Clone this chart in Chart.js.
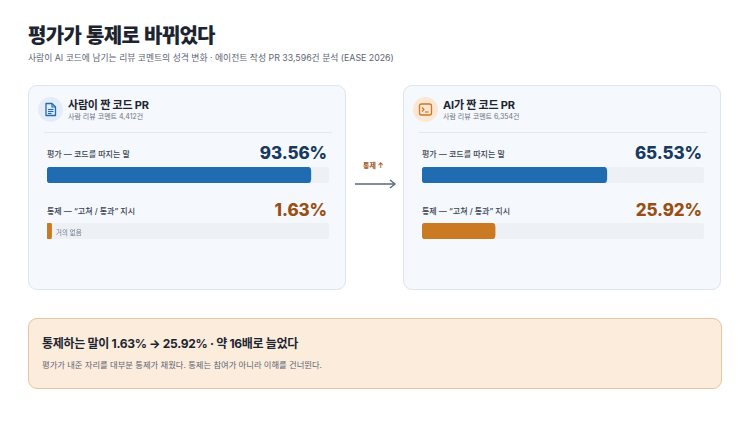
<!DOCTYPE html>
<html lang="ko">
<head>
<meta charset="utf-8">
<script src="https://cdn.jsdelivr.net/npm/chart.js@4.4.1/dist/chart.umd.min.js"></script>
<style>
    * { box-sizing: border-box; margin: 0; padding: 0; }
    body {
        width: 750px; height: 422px; background: #fff; position: relative; overflow: hidden;
        font-family: Inter, "Noto Sans CJK KR", sans-serif; color: #1c2430;
    }
    .abs { position: absolute; white-space: nowrap; }
    h1 { position: absolute; left: 28px; top: 20px; font-size: 20px; font-weight: 900; letter-spacing: -0.7px; font-family: "Noto Sans CJK KR", sans-serif; }
    .sub { left: 28px; top: 51px; font-size: 8.8px; color: #5b6573; }
    .card {
        position: absolute; top: 85px; width: 318px; height: 205px;
        background: #f5f8fc; border: 1px solid #dde5ee; border-radius: 9px;
    }
    .icon { position: absolute; left: 9px; top: 11px; width: 25px; height: 25px; border-radius: 50%; }
    .card-title { left: 39px; top: 10px; font-size: 11px; font-weight: 700; letter-spacing: -0.2px; }
    .card-sub { left: 39px; top: 25px; font-size: 7px; color: #6b7480; }
    .divider { position: absolute; left: 15px; right: 13px; top: 46px; height: 1px; background: #e3e9f0; }
    .label { left: 18px; font-size: 8px; font-weight: 500; color: #3a4350; }
    .value { right: 18px; font-size: 17px; font-weight: 800; letter-spacing: -0.1px; font-family: Inter, sans-serif; }
    .bar { position: absolute; left: 18px; width: 282px; height: 16px; }
    .note { font-size: 6.5px; color: #707a86; }
    .summary {
        position: absolute; left: 28px; top: 318px; width: 694px; height: 71px;
        background: #fbecdc; border: 1px solid #e8c59e; border-radius: 9px;
    }
</style>
</head>
<body>
<h1>평가가 통제로 바뀌었다</h1>
<div class="abs sub">사람이 AI 코드에 남기는 리뷰 코멘트의 성격 변화 · 에이전트 작성 PR 33,596건 분석 (EASE 2026)</div>

<div id="cards"></div>

<div class="abs" style="left:363px; top:160px; font-size:7px; font-weight:700; color:#9a5418;">통제 ↑</div>
<svg class="abs" style="left:354px; top:178px;" width="44" height="12">
    <line x1="1" y1="6" x2="41" y2="6" stroke="#5b6a7d" stroke-width="1.4"/>
    <polyline points="36,2 41,6 36,10" fill="none" stroke="#5b6a7d" stroke-width="1.4"/>
</svg>

<div class="summary">
    <div class="abs" style="left:13px; top:15px; font-size:12px; font-weight:700; letter-spacing:-0.3px;">통제하는 말이 1.63% → 25.92% · 약 16배로 늘었다</div>
    <div class="abs" style="left:13px; top:39px; font-size:8.3px; color:#5b6573;">평가가 내준 자리를 대부분 통제가 채웠다. 통제는 참여가 아니라 이해를 건너뛴다.</div>
</div>

<script>
// data
const groups = ['사람이 짠 코드 PR', 'AI가 짠 코드 PR'];
const commentCounts = ['4,412', '6,354'];
const evaluation = [93.56, 65.53];
const control = [1.63, 25.92];
const metricLabels = ['평가 — 코드를 따지는 말', '통제 — “고쳐 / 통과” 지시'];

const evalColor = '#1f6db0';
const controlColor = '#c97a22';
const trackColor = '#edf1f6';

const icons = [
    `<div class="icon" style="background:#e3ecf8;">
        <svg width="25" height="25" viewBox="0 0 25 25">
            <path d="M8 6.5h6l3.5 3.5v8.5h-9.5z" fill="none" stroke="#1f6db0" stroke-width="1.3" stroke-linejoin="round"/>
            <path d="M14 6.5v3.5h3.5" fill="none" stroke="#1f6db0" stroke-width="1.2"/>
            <line x1="10" y1="12.5" x2="15.5" y2="12.5" stroke="#1f6db0" stroke-width="1.1"/>
            <line x1="10" y1="14.5" x2="15.5" y2="14.5" stroke="#1f6db0" stroke-width="1.1"/>
            <line x1="10" y1="16.5" x2="13.5" y2="16.5" stroke="#1f6db0" stroke-width="1.1"/>
        </svg></div>`,
    `<div class="icon" style="background:#fbe7d3;">
        <svg width="25" height="25" viewBox="0 0 25 25">
            <rect x="6.5" y="7" width="12" height="11" rx="2" fill="none" stroke="#c97a22" stroke-width="1.3"/>
            <polyline points="9,10.5 11,12.5 9,14.5" fill="none" stroke="#c97a22" stroke-width="1.2"/>
            <line x1="12" y1="15" x2="15.5" y2="15" stroke="#c97a22" stroke-width="1.2"/>
        </svg></div>`
];

const cardLeft = [28, 403];
const cards = document.getElementById('cards');
groups.forEach((g, i) => {
    const card = document.createElement('div');
    card.className = 'card';
    card.style.left = cardLeft[i] + 'px';
    card.innerHTML = `
        ${icons[i]}
        <div class="abs card-title">${g}</div>
        <div class="abs card-sub">사람 리뷰 코멘트 ${commentCounts[i]}건</div>
        <div class="divider"></div>
        <div class="abs label" style="top:62px;">${metricLabels[0]}</div>
        <div class="abs value" style="top:57px; color:#173a5e;">${evaluation[i].toFixed(2)}%</div>
        <div class="bar" style="top:81px;"><canvas id="eval${i}"></canvas></div>
        <div class="abs label" style="top:119px;">${metricLabels[1]}</div>
        <div class="abs value" style="top:114px; color:#9a4f12;">${control[i].toFixed(2)}%</div>
        <div class="bar" style="top:137px;"><canvas id="ctrl${i}"></canvas></div>
        ${control[i] < 5 ? '<div class="abs note" style="left:27px; top:141px;">거의 없음</div>' : ''}
    `;
    cards.appendChild(card);
});

function drawBar(id, value, color) {
    new Chart(document.getElementById(id), {
        type: 'bar',
        data: {
            labels: [''],
            datasets: [
                { data: [value], backgroundColor: color, borderRadius: 4, borderSkipped: false, barThickness: 16, grouped: false, order: 1 },
                { data: [100], backgroundColor: trackColor, borderRadius: 4, borderSkipped: false, barThickness: 16, grouped: false, order: 2 }
            ]
        },
        options: {
            indexAxis: 'y',
            responsive: true,
            maintainAspectRatio: false,
            animation: false,
            layout: { padding: 0 },
            scales: {
                x: { min: 0, max: 100, display: false },
                y: { display: false }
            },
            plugins: { legend: { display: false }, tooltip: { enabled: false } }
        }
    });
}

groups.forEach((g, i) => {
    drawBar('eval' + i, evaluation[i], evalColor);
    drawBar('ctrl' + i, control[i], controlColor);
});
</script>
</body>
</html>
